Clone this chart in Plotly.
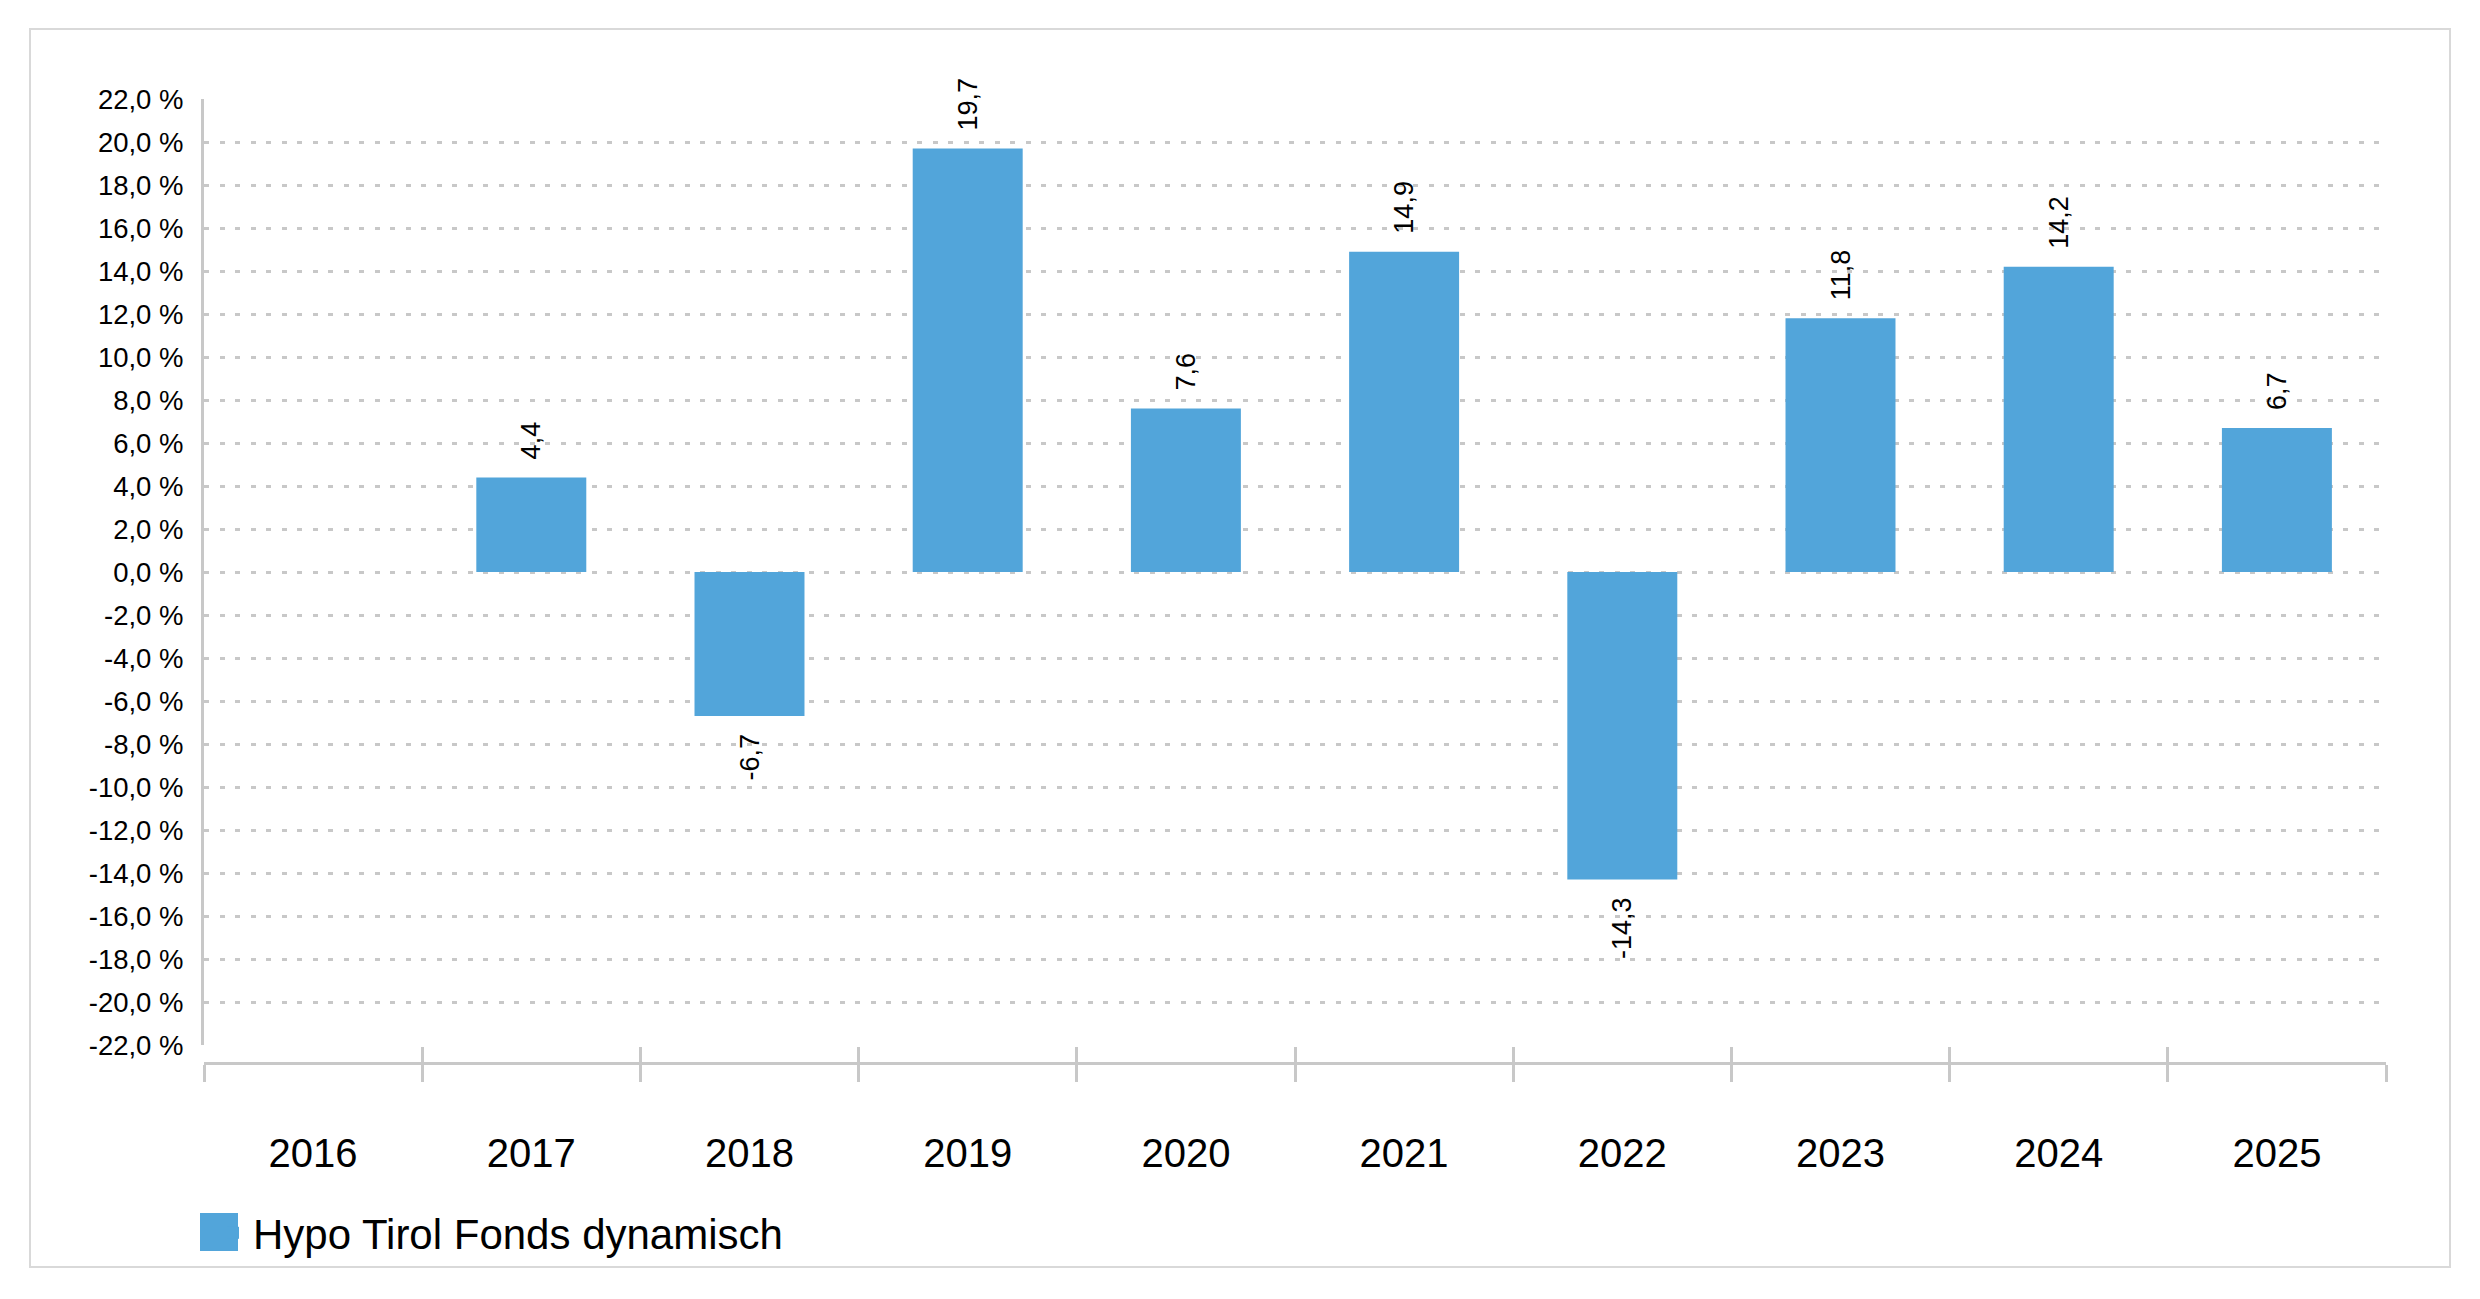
import plotly.graph_objects as go

years = ["2016", "2017", "2018", "2019", "2020", "2021", "2022", "2023", "2024", "2025"]
returns = [None, 4.4, -6.7, 19.7, 7.6, 14.9, -14.3, 11.8, 14.2, 6.7]
series_name = "Hypo Tirol Fonds dynamisch"
y_tick_values = list(range(-22, 23, 2))
y_tick_labels = [f"{v:.1f}".replace(".", ",") + " %" for v in y_tick_values]

# page body has an 8px margin; figure is sized to fit inside the window
OFF = 8
W, H = 2480 - 2 * OFF, 1299 - 2 * OFF
ML, MT = 204 - OFF, 99 - OFF
PLOT_RIGHT, PLOT_BOTTOM = 2386 - OFF, 1063 - OFF
MR, MB = W - PLOT_RIGHT, H - PLOT_BOTTOM
PW, PH = W - ML - MR, H - MT - MB
BAR_COLOR = "#52A5DA"
GRID = "#c8c8c8"
FONT = "Liberation Sans, Arial, sans-serif"

def px_x(px):
    return (px - OFF - ML) / PW

def px_y(py):
    return (PLOT_BOTTOM - (py - OFF)) / PH

NB = "\u00a0"
labels = []
for v in returns:
    if v is None:
        labels.append("")
    else:
        t = f"{v:.1f}".replace(".", ",")
        labels.append(NB * 2 + t if v >= 0 else t + NB * 2)

fig = go.Figure()
fig.add_trace(go.Bar(
    x=years, y=returns, name=series_name,
    marker=dict(color=BAR_COLOR, line=dict(width=0)),
    text=labels, textposition="outside", textangle=-90,
    textfont=dict(size=27, color="#000000", family=FONT),
    cliponaxis=False, constraintext="none",
    hoverinfo="x+y",
))
fig.add_trace(go.Scatter(
    x=years, y=returns, mode="none", showlegend=False,
    hoverinfo="skip", xaxis="x2",
))

fig.update_layout(
    width=W, height=H,
    margin=dict(l=ML, r=MR, t=MT, b=MB, pad=0),
    paper_bgcolor="white", plot_bgcolor="white",
    font=dict(family=FONT, color="#000000"),
    bargap=0.496,
    showlegend=True,
    legend=dict(
        xref="container", yref="container",
        x=(213 - OFF) / W, xanchor="left", y=(H - (1233 - OFF)) / H, yanchor="middle",
        orientation="h", font=dict(size=42, color="#000000", family=FONT),
        bgcolor="rgba(0,0,0,0)", borderwidth=0,
    ),
    xaxis=dict(
        type="category", categoryorder="array", categoryarray=years,
        range=[-0.5, len(years) - 0.5],
        anchor="free", position=0,
        showline=True, linecolor=GRID, linewidth=3,
        ticks="outside", tickson="boundaries", ticklen=17, tickwidth=3, tickcolor=GRID,
        tickfont=dict(size=40, color="#000000", family=FONT),
        ticklabelstandoff=54,
        showgrid=False, zeroline=False, fixedrange=True,
    ),
    xaxis2=dict(
        type="category", categoryorder="array", categoryarray=years,
        range=[-0.5, len(years) - 0.5], matches="x",
        overlaying="x", anchor="free", position=0,
        showline=False, ticks="inside", tickson="boundaries", ticklen=16,
        tickwidth=3, tickcolor=GRID, showticklabels=False,
        showgrid=False, zeroline=False,
    ),
    yaxis=dict(
        range=[-22, 22], domain=[18 / PH, 1],
        tickmode="array", tickvals=y_tick_values, ticktext=y_tick_labels,
        tickfont=dict(size=27.5, color="#000000", family=FONT),
        ticks="", ticklabelstandoff=12,
        showline=True, linecolor=GRID, linewidth=3,
        showgrid=True, gridcolor=GRID, gridwidth=3, griddash="5px,10.5px",
        zeroline=False, fixedrange=True,
    ),
    shapes=[
        dict(type="rect", xref="paper", yref="paper",
             x0=px_x(30), x1=px_x(2450), y0=px_y(1267), y1=px_y(29),
             line=dict(color="#d9d9d9", width=2), fillcolor="rgba(0,0,0,0)", layer="below"),
        dict(type="rect", xref="paper", yref="paper",
             x0=px_x(200), x1=px_x(238), y0=px_y(1251), y1=px_y(1213),
             line=dict(width=0), fillcolor=BAR_COLOR, layer="above"),
    ],
)

fig.write_html("out.html")
